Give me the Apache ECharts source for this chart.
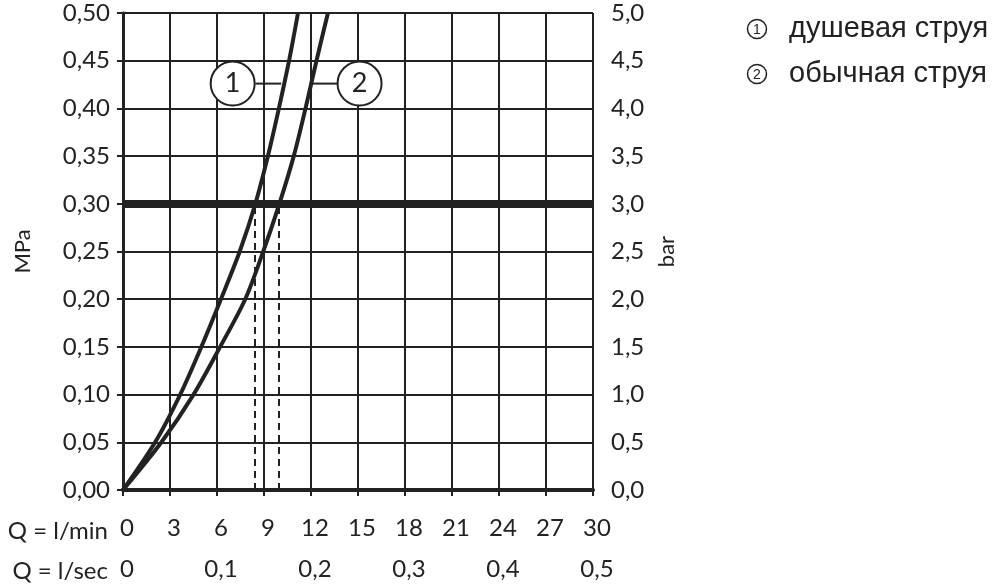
<!DOCTYPE html>
<html>
<head>
<meta charset="utf-8">
<title>Расходная характеристика</title>
<script src="https://cdn.jsdelivr.net/npm/echarts@6/dist/echarts.min.js"></script>
<style>
  html, body { margin: 0; padding: 0; background: #fff; }
  #chart { width: 1000px; height: 585px; }
</style>
</head>
<body>
<div id="chart"></div>
<script>
// pressure levels (MPa) and flow at those levels (l/min)
const pressureMPa = [0, 0.05, 0.10, 0.15, 0.20, 0.25, 0.30, 0.35, 0.40, 0.45, 0.50];
const showerFlow  = [0, 2.05, 3.65, 5.0, 6.25, 7.45, 8.45, 9.25, 9.95, 10.6, 11.17];
const normalFlow  = [0, 2.45, 4.5, 6.2, 7.8, 8.95, 9.98, 10.9, 11.65, 12.35, 13.08];

const seriesNames = ['душевая струя', 'обычная струя'];
const seriesBadges = ['1', '2'];

// 3 bar working pressure and the resulting flows
const ratedPressure = 0.3;
const ratedFlow = [8.4, 9.95];

// axis titles
const lpmTitle = 'Q = l/min';
const lpsTitle = 'Q = l/sec';

// where the numbered badges sit (l/min, MPa) and where their leader lines end
const badgeAnchors = [[7.0, 0.426], [15.1, 0.426]];
const leaderLines = [[[8.45, 0.426], [10.1, 0.426]], [[11.95, 0.426], [13.7, 0.426]]];

const INK = '#222';
const AXIS_FONT = 'Lato';
const AXIS_SIZE = 24;

const comma = (v, d) => v.toFixed(d).replace('.', ',');

const chart = echarts.init(document.getElementById('chart'));

const curveSeries = [showerFlow, normalFlow].map((flows, i) => ({
  name: seriesNames[i],
  type: 'line',
  xAxisIndex: 0,
  yAxisIndex: 0,
  smooth: 0.3,
  showSymbol: false,
  lineStyle: { color: INK, width: 4 },
  data: flows.map((q, k) => [q, pressureMPa[k]]),
  z: 5
}));

const option = {
  animation: false,
  backgroundColor: '#fff',
  grid: { left: 123, right: 407, top: 13, bottom: 95 },
  xAxis: [
    {
      type: 'value', min: 0, max: 30, interval: 3,
      axisLine: { show: true, onZero: false, lineStyle: { color: INK, width: 4 } },
      axisTick: { show: true, length: 6, lineStyle: { color: INK, width: 2 } },
      axisLabel: { margin: 26, color: INK, fontSize: AXIS_SIZE, fontFamily: AXIS_FONT, padding: [0, 0, 0, 8] },
      splitLine: { show: true, lineStyle: { color: INK, width: 2 } }
    },
    {
      type: 'value', min: 0, max: 0.5, interval: 0.1, position: 'bottom', offset: 41,
      axisLine: { show: false }, axisTick: { show: false }, splitLine: { show: false },
      axisLabel: { margin: 26, color: INK, fontSize: AXIS_SIZE, fontFamily: AXIS_FONT, padding: [0, 0, 0, 8],
        formatter: v => v === 0 ? '0' : comma(v, 1) }
    }
  ],
  yAxis: [
    {
      type: 'value', min: 0, max: 0.5, interval: 0.05, position: 'left',
      name: 'MPa', nameLocation: 'middle', nameRotate: 90, nameGap: 89,
      nameTextStyle: { color: INK, fontSize: 22, fontFamily: AXIS_FONT },
      axisLine: { show: true, lineStyle: { color: INK, width: 3 } },
      axisTick: { show: true, length: 6, lineStyle: { color: INK, width: 2 } },
      axisLabel: { margin: 13, color: INK, fontSize: AXIS_SIZE, fontFamily: AXIS_FONT, formatter: v => comma(v, 2) },
      splitLine: { show: true, lineStyle: { color: INK, width: 2 } }
    },
    {
      type: 'value', min: 0, max: 5, interval: 0.5, position: 'right',
      name: 'bar', nameLocation: 'middle', nameRotate: 90, nameGap: 63,
      nameTextStyle: { color: INK, fontSize: 22, fontFamily: AXIS_FONT },
      axisLine: { show: true, lineStyle: { color: INK, width: 3 } },
      axisTick: { show: true, length: 7, lineStyle: { color: INK, width: 2 } },
      axisLabel: { margin: 18, color: INK, fontSize: AXIS_SIZE, fontFamily: AXIS_FONT, formatter: v => comma(v, 1) },
      splitLine: { show: false }
    }
  ],
  series: [
    // thick 3 bar line and the dashed drop lines
    {
      type: 'line', data: [], xAxisIndex: 0, yAxisIndex: 0,
      markLine: {
        silent: true, symbol: 'none', label: { show: false }, animation: false,
        data: [
          { yAxis: ratedPressure, lineStyle: { color: INK, width: 8, type: 'solid' } },
          ...ratedFlow.map(q => [
            { coord: [q, 0], lineStyle: { color: INK, width: 2, type: [7, 5] } },
            { coord: [q, ratedPressure] }
          ])
        ]
      },
      z: 3
    },
    ...curveSeries,
    // leader lines from badges to curves
    ...leaderLines.map(seg => ({
      type: 'line', data: seg, showSymbol: false,
      lineStyle: { color: INK, width: 2 }, z: 6
    })),
    // numbered badges
    {
      type: 'scatter',
      data: badgeAnchors.map((p, i) => ({ value: p, badge: seriesBadges[i] })),
      symbol: 'circle', symbolSize: 44,
      itemStyle: { color: '#fff', borderColor: INK, borderWidth: 2, opacity: 1 },
      label: {
        show: true, position: 'inside', color: INK, fontSize: 27, fontFamily: AXIS_FONT,
        formatter: p => p.data.badge
      },
      z: 7
    }
  ],
  graphic: [
    { type: 'text', x: 108, y: 531, style: { text: lpmTitle, fill: INK, fontSize: AXIS_SIZE, fontFamily: AXIS_FONT, align: 'right', verticalAlign: 'middle' } },
    { type: 'text', x: 108, y: 571, style: { text: lpsTitle, fill: INK, fontSize: AXIS_SIZE, fontFamily: AXIS_FONT, align: 'right', verticalAlign: 'middle' } },
    ...seriesNames.flatMap((name, i) => {
      const cy = 29 + i * 45;
      return [
        { type: 'circle', shape: { cx: 757, cy: cy, r: 9.5 }, style: { fill: '#fff', stroke: INK, lineWidth: 1.5 } },
        { type: 'text', x: 757, y: cy + 1, style: { text: seriesBadges[i], fill: INK, fontSize: 14, fontFamily: 'Liberation Sans', align: 'center', verticalAlign: 'middle' } },
        { type: 'text', x: 789, y: cy, style: { text: name, fill: INK, fontSize: 29, fontFamily: 'Liberation Sans', align: 'left', verticalAlign: 'middle' } }
      ];
    })
  ]
};

chart.setOption(option);
window.addEventListener('resize', () => chart.resize());
</script>
</body>
</html>
